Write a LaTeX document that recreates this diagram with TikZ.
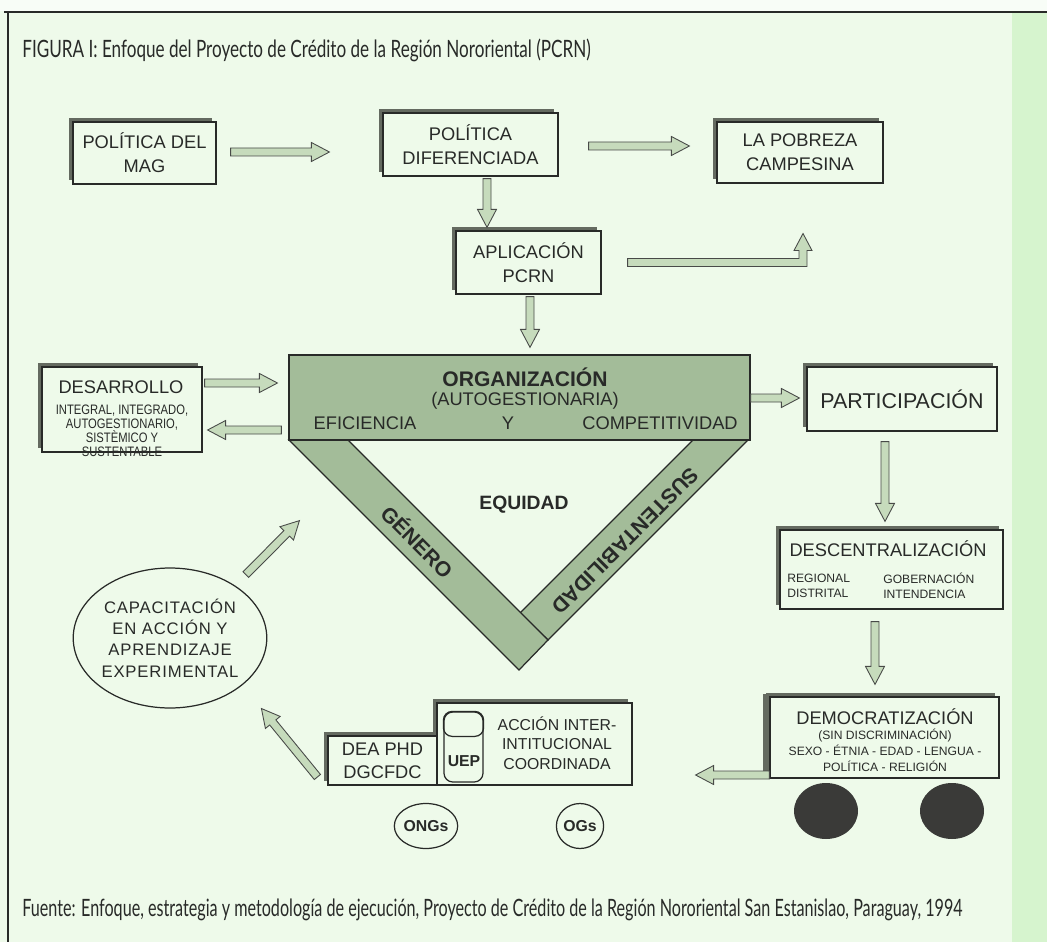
\documentclass[tikz,border=0pt]{standalone}
\usepackage{fontspec}
\setmainfont{Liberation Sans}
\newfontfamily\capfont[FakeStretch=0.716]{Lato}
\newfontfamily\srcfont[FakeStretch=0.676]{Lato}
\newfontfamily\narrowfont[FakeStretch=0.82]{Liberation Sans}
\newfontfamily\spacedfont[LetterSpace=5]{Liberation Sans}
\usetikzlibrary{calc, positioning, shadows, shapes.geometric}

\definecolor{pagegreen}{RGB}{238,250,234}
\definecolor{stripgreen}{RGB}{214,244,206}
\definecolor{bandgreen}{RGB}{163,188,153}
\definecolor{arrowgreen}{RGB}{198,219,188}
\definecolor{inkgray}{RGB}{40,42,40}
\definecolor{shadowgray}{RGB}{100,106,96}
\definecolor{wheelgray}{RGB}{58,58,56}

% fat block arrow between two points
\newcommand{\fatarrow}[2]{%
  \coordinate (fa-s) at (#1);
  \coordinate (fa-e) at (#2);
  \coordinate (fa-h) at ($(fa-e)!0.36cm!(fa-s)$);
  \filldraw[fatarrow] ($(fa-s)!0.08cm!90:(fa-e)$) -- ($(fa-h)!0.08cm!90:(fa-e)$)
    -- ($(fa-h)!0.19cm!90:(fa-e)$) -- (fa-e) -- ($(fa-h)!0.19cm!-90:(fa-e)$)
    -- ($(fa-h)!0.08cm!-90:(fa-e)$) -- ($(fa-s)!0.08cm!-90:(fa-e)$) -- cycle;
}

\begin{document}
\begin{tikzpicture}[x=0.02cm, y=-0.02cm,
    box/.style={draw=inkgray, line width=0.7pt, fill=pagegreen, rectangle,
                inner sep=0pt, align=center, text=inkgray,
                font=\fontsize{10.4}{13.7}\selectfont,
                drop shadow={shadow xshift=-0.08cm, shadow yshift=0.08cm,
                             fill=shadowgray, opacity=1}},
    orgbox/.style={draw=inkgray, line width=0.7pt, fill=bandgreen, rectangle, inner sep=0pt},
    band/.style={draw=inkgray, line width=0.7pt, fill=bandgreen},
    fatarrow/.style={draw=inkgray!85, line width=0.5pt, fill=arrowgreen},
    txt/.style={text=inkgray, inner sep=0pt, font=\fontsize{10.4}{13.7}\selectfont},
    boldtxt/.style={text=inkgray, inner sep=0pt, font=\bfseries\fontsize{12}{14}\selectfont},
    small/.style={text=inkgray, inner sep=0pt, font=\fontsize{6.9}{8.5}\selectfont},
    captext/.style={text=inkgray, inner sep=0pt, font=\capfont\fontsize{13.6}{15}\selectfont},
    roundbox/.style={draw=inkgray, line width=0.7pt, ellipse, inner sep=0pt, text=inkgray},
    wheel/.style={fill=wheelgray, ellipse, inner sep=0pt,
                  minimum width=1.28cm, minimum height=1.12cm}
  ]
  \useasboundingbox (0,0) rectangle (1047,942);
  \fill[pagegreen] (0,0) rectangle (1047,942);
  \fill[white!60!pagegreen] (0,0) rectangle (1047,11);
  \fill[stripgreen] (1012,12) rectangle (1047,942);
  \draw[inkgray, line width=1.6pt] (4,12) -- (1047,12);
  \draw[inkgray, line width=1pt] (8,12) -- (8,942);

  % title and source
  \node[captext, anchor=west] (title) at (22,50)
    {FIGURA I: Enfoque del Proyecto de Crédito de la Región Nororiental (PCRN)};
  \node[captext, font=\srcfont\fontsize{13.6}{15}\selectfont, anchor=west] (source) at (22,910)
    {Fuente: Enfoque, estrategia y metodología de ejecución, Proyecto de Crédito de la Región Nororiental San Estanislao, Paraguay, 1994};

  % top row
  \node[box, minimum width=2.86cm, minimum height=1.24cm] (mag) at (144.5,153) {POLÍTICA DEL\\MAG};
  \node[box, minimum width=3.5cm, minimum height=1.26cm] (dif) at (470.5,144.5) {POLÍTICA\\DIFERENCIADA};
  \node[box, minimum width=3.32cm, minimum height=1.22cm] (pob) at (800,152.5) {LA POBREZA\\CAMPESINA};
  \node[box, minimum width=2.9cm, minimum height=1.26cm] (apl) at (528.5,262.5) {APLICACIÓN\\PCRN};

  % the V
  \filldraw[band] (693,440) -- (748,440) -- (548,640) -- (520,613) -- cycle;
  \filldraw[band] (289,440) -- (348,440) -- (548,640) -- (519,670) -- cycle;
  \node[orgbox, minimum width=9.22cm, minimum height=1.7cm] (org) at (519.5,397.5) {};
  \node[boldtxt] (orgname) at (525,377) {ORGANIZACIÓN};
  \node[txt] (orgsub) at (525,401) {(AUTOGESTIONARIA)};
  \node[txt] (efi) at (365,423) {EFICIENCIA};
  \node[txt] (yy) at (508,423) {Y};
  \node[txt] (comp) at (660,423) {COMPETITIVIDAD};
  \node[boldtxt, font=\bfseries\fontsize{11}{13}\selectfont] (equ) at (524,505) {EQUIDAD};
  \node[boldtxt, rotate=-45] (gen) at (418,541) {GÉNERO};
  \node[boldtxt, rotate=225] (sus) at (625,541) {SUSTENTABILIDAD};

  % left side
  \node[box, minimum width=3.2cm, minimum height=1.7cm] (des) at (122,409.5) {};
  \node[txt] (desname) at (121,387) {DESARROLLO};
  \node[small, font=\narrowfont\fontsize{7.8}{8}\selectfont, align=center] (destext) at (122,431)
    {INTEGRAL, INTEGRADO,\\AUTOGESTIONARIO,\\SISTÈMICO Y\\SUSTENTABLE};
  \node[roundbox, minimum width=3.12cm, minimum height=2.8cm, align=center,
        font=\spacedfont\fontsize{9.5}{12.2}\selectfont] (cap) at (170,638)
    {CAPACITACIÓN\\EN ACCIÓN Y\\APRENDIZAJE\\EXPERIMENTAL};

  % right side
  \node[box, minimum width=3.8cm, minimum height=1.28cm,
        font=\fontsize{12.2}{14}\selectfont] (par) at (902,399) {PARTICIPACIÓN};
  \node[box, minimum width=4.46cm, minimum height=1.58cm] (dec) at (891.5,569.5) {};
  \node[txt] (decname) at (888,549) {DESCENTRALIZACIÓN};
  \node[small, anchor=west, align=left] (decreg) at (787,585.5) {REGIONAL\\DISTRITAL};
  \node[small, anchor=west, align=left] (decgob) at (883,585.5) {GOBERNACIÓN\\INTENDENCIA};
  \node[box, minimum width=4.58cm, minimum height=1.62cm,
        drop shadow={shadow xshift=-0.14cm, shadow yshift=0.06cm,
                     fill=shadowgray, opacity=1}] (dem) at (884.5,737.5) {};
  \node[txt] (demname) at (885,717) {DEMOCRATIZACIÓN};
  \node[small, font=\fontsize{6.9}{9.1}\selectfont, align=center] (demtext) at (885,750)
    {(SIN DISCRIMINACIÓN)\\SEXO - ÉTNIA - EDAD - LENGUA -\\POLÍTICA - RELIGIÓN};
  \node[wheel] (wheelA) at (826,811) {};
  \node[wheel] (wheelB) at (952,811) {};

  % bottom middle
  \node[box, minimum width=3.9cm, minimum height=1.64cm] (acc) at (534.5,744) {};
  \node[box, minimum width=2.18cm, minimum height=0.98cm,
        font=\fontsize{10.4}{13.1}\selectfont] (dea) at (382.5,760.5) {DEA PHD\\DGCFDC};
  \node[draw=inkgray, line width=0.7pt, rounded corners=5pt, inner sep=0pt,
        minimum width=0.78cm, minimum height=1.4cm] (uep) at (463.5,747) {};
  \draw[inkgray, line width=0.7pt, rounded corners=5pt]
    (uep.north west) rectangle ($(uep.north east)+(0,25)$);
  \node[txt, font=\bfseries\fontsize{9}{11}\selectfont] (ueplabel) at (464,761) {UEP};
  \node[txt, font=\fontsize{9}{11.1}\selectfont, align=center] (acctext) at (557,743)
    {ACCIÓN INTER-\\INTITUCIONAL\\COORDINADA};
  \node[roundbox, minimum width=0.8cm, minimum height=0.9cm,
        font=\bfseries\fontsize{9}{11}\selectfont] (ong) at (426,826) {ONGs};
  \node[roundbox, minimum width=0.8cm, minimum height=0.9cm,
        font=\bfseries\fontsize{9}{11}\selectfont] (ogs) at (580,826) {OGs};

  % arrows
  \fatarrow{$(mag.east)+(14,-1)$}{$(mag.east -| dif.west)+(-53,-1)$}
  \fatarrow{$(dif.east)+(30,1.5)$}{$(pob.west |- dif.east)+(-27,1.5)$}
  \fatarrow{$(dif.south)+(16.5,2)$}{$(apl.north -| dif.south)+(16.5,-3)$}
  \fatarrow{$(apl.south)+(1.5,2)$}{$(apl.south |- org.north)+(1.5,-7)$}
  \coordinate (lt) at ($(apl.east)+(26,0)$);
  \coordinate (lc) at ($(pob.south |- apl.east)+(3,0)$);
  \filldraw[fatarrow] (lt) ++(0,-4) -| ($(lc)+(-4,-12)$) -- ++(-5,0) -- ($(lc)+(0,-29)$)
    -- ($(lc)+(9,-12)$) -- ++(-5,0) |- ($(lt)+(0,4)$) -- cycle;
  \fatarrow{$(des.east)+(2,-26.5)$}{$(org.west |- des.east)+(-11,-26.5)$}
  \fatarrow{$(org.west |- des.east)+(-7,20.5)$}{$(des.east)+(5,20.5)$}
  \fatarrow{$(org.east)+(0,0.5)$}{$(par.west)+(-7,-1)$}
  \fatarrow{$(par.south)+(-17,10)$}{$(dec.north -| par.south)+(-17,-8)$}
  \fatarrow{$(dec.south)+(-16.5,12)$}{$(dem.north -| dec.south)+(-16.5,-12)$}
  \fatarrow{$(dem.west)+(0,37.5)$}{$(acc.east |- dem.west)+(63,37.5)$}
  \fatarrow{$(dea.west)+(-10,16.5)$}{$(dea.west)+(-66,-52)$}
  \fatarrow{$(cap.north east)+(7,-13.5)$}{$(org.south west)+(11,80)$}
\end{tikzpicture}
\end{document}
